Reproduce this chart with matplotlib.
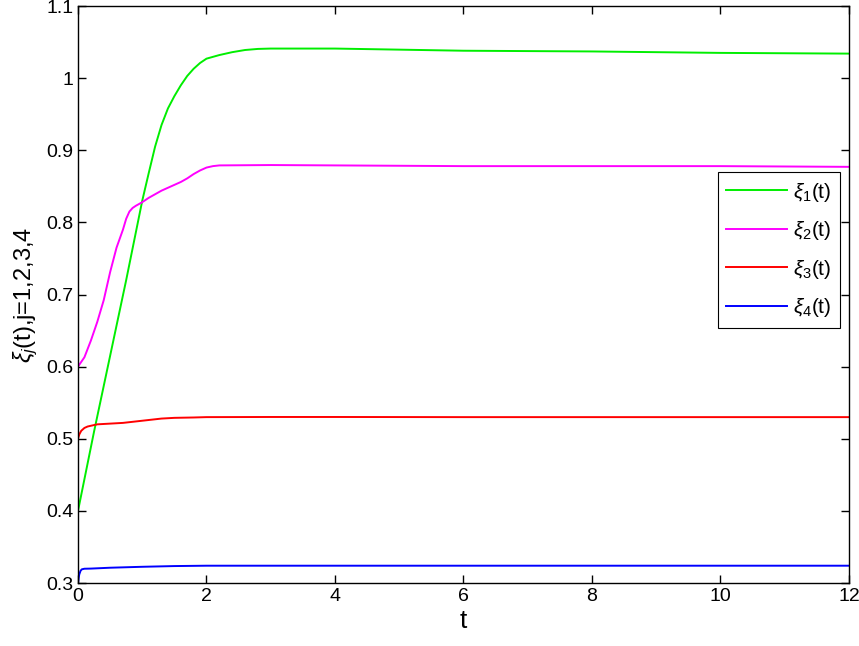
import matplotlib.pyplot as plt
from matplotlib.ticker import FuncFormatter

# values
t1 = [0, 0.25, 0.5, 0.75, 1.0, 1.1, 1.2, 1.3, 1.4, 1.5, 1.6, 1.7, 1.8, 1.9, 2.0, 2.2, 2.4, 2.6,
      2.8, 3.0, 3.5, 4, 6, 8, 10, 12]
xi1 = [0.4, 0.51, 0.615, 0.72, 0.83, 0.868, 0.905, 0.935, 0.958, 0.975, 0.99, 1.003, 1.013, 1.021,
       1.027, 1.032, 1.036, 1.039, 1.0405, 1.041, 1.041, 1.041, 1.038, 1.037, 1.035, 1.034]

t2 = [0, 0.1, 0.2, 0.3, 0.4, 0.5, 0.6, 0.7, 0.75, 0.8, 0.85, 0.9, 1.0, 1.1, 1.2, 1.3, 1.4, 1.5,
      1.6, 1.7, 1.8, 1.9, 2.0, 2.1, 2.2, 3, 4, 6, 8, 10, 12]
xi2 = [0.6, 0.613, 0.636, 0.662, 0.692, 0.731, 0.765, 0.79, 0.805, 0.815, 0.82, 0.823, 0.828,
       0.834, 0.839, 0.844, 0.848, 0.852, 0.856, 0.861, 0.867, 0.872, 0.876, 0.878, 0.879, 0.8795,
       0.879, 0.878, 0.878, 0.878, 0.877]

t3 = [0, 0.02, 0.05, 0.1, 0.15, 0.2, 0.3, 0.5, 0.7, 0.9, 1.1, 1.3, 1.5, 1.8, 2.0, 3, 4, 6, 8, 10, 12]
xi3 = [0.5, 0.506, 0.511, 0.515, 0.517, 0.518, 0.52, 0.521, 0.522, 0.524, 0.526, 0.528, 0.529,
       0.5295, 0.53, 0.5302, 0.5302, 0.53, 0.53, 0.53, 0.53]

t4 = [0, 0.01, 0.02, 0.04, 0.06, 0.1, 0.2, 0.5, 1.0, 1.5, 2.0, 3, 4, 6, 8, 10, 12]
xi4 = [0.3, 0.307, 0.312, 0.317, 0.319, 0.3198, 0.32, 0.3212, 0.3225, 0.3235, 0.324, 0.324,
       0.324, 0.324, 0.324, 0.324, 0.324]

plt.rcParams['font.family'] = ['Liberation Sans', 'DejaVu Sans']
plt.rcParams['mathtext.fontset'] = 'custom'
plt.rcParams['mathtext.rm'] = 'Liberation Sans'
plt.rcParams['mathtext.it'] = 'Liberation Sans:italic'

fig = plt.figure(figsize=(8.59, 6.46), dpi=100)
ax = fig.add_axes([0.0908, 0.0975, 0.8975, 0.8932])

ax.plot(t1, xi1, color='#00ee00', lw=1.4, label=r'$\xi_1$(t)')
ax.plot(t2, xi2, color='#ff00ff', lw=1.4, label=r'$\xi_2$(t)')
ax.plot(t3, xi3, color='#ff0000', lw=1.4, label=r'$\xi_3$(t)')
ax.plot(t4, xi4, color='#0000ff', lw=1.4, label=r'$\xi_4$(t)')

ax.set_xlim(0, 12)
ax.set_ylim(0.3, 1.1)
ax.set_xticks(range(0, 13, 2))
ax.set_yticks([0.3, 0.4, 0.5, 0.6, 0.7, 0.8, 0.9, 1.0, 1.1])
ax.yaxis.set_major_formatter(FuncFormatter(lambda v, p: f'{v:g}'))
ax.tick_params(direction='in', top=True, right=True, labelsize=14, length=6, width=1)
for s in ax.spines.values():
    s.set_linewidth(1)

ax.set_xlabel('t', fontsize=19, labelpad=3)
ax.set_ylabel(r'$\xi_j$(t),j=1,2,3,4', fontsize=17, labelpad=4)

leg = ax.legend(loc='upper right', bbox_to_anchor=(0.988, 0.712), fontsize=15, fancybox=False,
                edgecolor='black', framealpha=1, borderaxespad=0, handlelength=2.9,
                labelspacing=0.75, handletextpad=0.3)
leg.get_frame().set_linewidth(0.8)

fig.savefig('out.png', dpi=100)
